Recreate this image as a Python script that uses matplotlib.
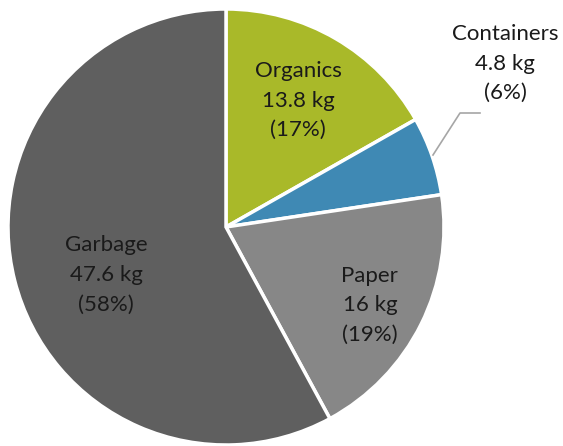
import matplotlib
matplotlib.use("Agg")
from matplotlib import pyplot as plt

# waste per category, kg
categories = ["Organics", "Containers", "Paper", "Garbage"]
weights = [13.8, 4.8, 16, 47.6]
percents = [17, 6, 19, 58]
colors = ["#a9b929", "#3f89b4", "#878787", "#5f5f5f"]

# label positions in pie units (centre 0,0 radius 1)
label_pos = [(0.33, 0.58), (1.28, 0.75), (0.66, -0.36), (-0.55, -0.22)]

plt.rcParams['font.family'] = ['Lato', 'DejaVu Sans']

fig = plt.figure(figsize=(5.63, 4.46), dpi=100)
ax = fig.add_axes([8 / 563, 1 / 446, 436 / 563, 436 / 446])
ax.pie(weights, colors=colors, startangle=90, counterclock=False,
       radius=1, wedgeprops=dict(edgecolor='white', linewidth=2.5))
ax.set_xlim(-1, 1)
ax.set_ylim(-1, 1)
ax.set_aspect('equal')
ax.axis('off')

for name, w, p, (x, y) in zip(categories, weights, percents, label_pos):
    txt = '%s\n%g kg\n(%d%%)' % (name, w, p)
    ax.text(x, y, txt, ha='center', va='center', fontsize=16,
            color='#1a1a1a', linespacing=1.6, clip_on=False)

# leader line for Containers
ax.plot([(433 - 226) / 218, (460 - 226) / 218, (480 - 226) / 218],
        [(227 - 155) / 218, (227 - 113) / 218, (227 - 113) / 218],
        color='#a6a6a6', linewidth=1.2, clip_on=False)

plt.savefig('out.png', dpi=100)
